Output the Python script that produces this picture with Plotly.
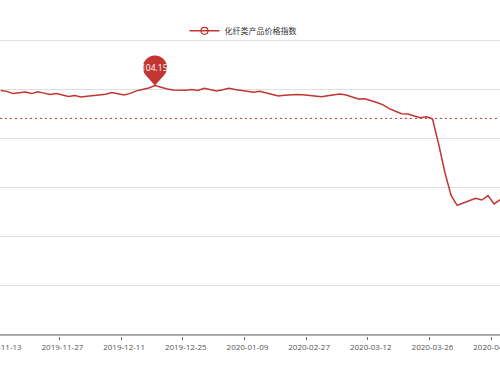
import numpy as np
import plotly.graph_objects as go

# ---------------- data ----------------
dates = [
    "2019-11-13", "2019-11-14", "2019-11-15", "2019-11-18", "2019-11-19", "2019-11-20",
    "2019-11-21", "2019-11-22", "2019-11-25", "2019-11-26", "2019-11-27", "2019-11-28",
    "2019-11-29", "2019-12-02", "2019-12-03", "2019-12-04", "2019-12-05", "2019-12-06",
    "2019-12-09", "2019-12-10", "2019-12-11", "2019-12-12", "2019-12-13", "2019-12-16",
    "2019-12-17", "2019-12-18", "2019-12-19", "2019-12-20", "2019-12-23", "2019-12-24",
    "2019-12-25", "2019-12-26", "2019-12-27", "2019-12-30", "2019-12-31", "2020-01-02",
    "2020-01-03", "2020-01-06", "2020-01-07", "2020-01-08", "2020-01-09", "2020-01-10",
    "2020-01-13", "2020-01-14", "2020-01-15", "2020-01-16", "2020-01-17", "2020-01-20",
    "2020-01-21", "2020-01-22", "2020-02-27", "2020-02-28", "2020-03-02", "2020-03-03",
    "2020-03-04", "2020-03-05", "2020-03-06", "2020-03-09", "2020-03-10", "2020-03-11",
    "2020-03-12", "2020-03-13", "2020-03-16", "2020-03-17", "2020-03-18", "2020-03-19",
    "2020-03-20", "2020-03-23", "2020-03-24", "2020-03-25", "2020-03-26", "2020-03-27",
    "2020-03-30", "2020-03-31", "2020-04-01", "2020-04-02", "2020-04-03", "2020-04-07",
    "2020-04-08", "2020-04-09", "2020-04-10", "2020-04-13", "2020-04-14",
]
index_values = [
    103.95, 103.91, 103.82, 103.84, 103.88, 103.82, 103.89, 103.84, 103.78, 103.82,
    103.76, 103.70, 103.74, 103.68, 103.71, 103.74, 103.78, 103.79, 103.86, 103.81,
    103.76, 103.83, 103.93, 103.99, 104.05, 104.15, 104.07, 104.01, 103.97, 103.95,
    103.96, 103.99, 103.95, 104.04, 104.00, 103.93, 103.98, 104.04, 103.99, 103.95,
    103.89, 103.88, 103.91, 103.84, 103.77, 103.72, 103.75, 103.78, 103.78, 103.77,
    103.75, 103.72, 103.69, 103.73, 103.78, 103.80, 103.76, 103.67, 103.60, 103.61,
    103.54, 103.46, 103.36, 103.21, 103.10, 103.00, 102.99, 102.91, 102.84, 102.88,
    102.79, 101.77, 100.63, 99.69, 99.27, 99.37, 99.47, 99.56, 99.49, 99.67,
    99.33, 99.51, 99.61,
]
average_value = 102.81          # dashed "average" mark line
series_name = "化纤类产品价格指数"
label_every = 10                # one axis label per 10 categories
y_min, y_max, y_step = 94, 106, 2

# ---------------- styling ----------------
RED = "#c23531"
AXIS = "#666666"
GRID = "#e0e0e0"
FONT = "Open Sans, Noto Sans CJK SC, sans-serif"

tick_idx = list(range(0, len(dates), label_every))
x_range = [-0.12, 80.95]
pad = 0.041
y_range = [y_min - pad, y_max + pad]

fig = go.Figure()

fig.add_trace(go.Scatter(
    x=dates, y=index_values, mode="lines",
    line=dict(color=RED, width=1.5), showlegend=False,
))
# legend entry (empty-circle line icon)
fig.add_trace(go.Scatter(
    x=[None], y=[None], mode="lines+markers", name=series_name,
    line=dict(color=RED, width=1.5),
    marker=dict(symbol="circle-open", size=7, color=RED, line=dict(width=1.2)),
))
# helper trace for the boundary tick axis
fig.add_trace(go.Scatter(x=[], y=[], xaxis="x2", showlegend=False, hoverinfo="skip"))

# average mark line
fig.add_shape(type="line", xref="paper", x0=0, x1=1, yref="y",
              y0=average_value, y1=average_value,
              line=dict(color=RED, width=1, dash="2px,3px"))

# max mark point (pin)
imax = int(np.argmax(index_values))
vmax = index_values[imax]
r, cy = 12.0, 18.0
beta = np.arccos(r / cy)
t = np.linspace(-np.pi / 2 + beta, 3 * np.pi / 2 - beta, 40)
pts = ["M 0 0"] + [f"L {r*np.cos(a):.2f} {cy + r*np.sin(a):.2f}" for a in t] + ["Z"]
fig.add_shape(type="path", xref="x", yref="y",
              xsizemode="pixel", ysizemode="pixel",
              xanchor=dates[imax], yanchor=vmax,
              path=" ".join(pts), fillcolor=RED, line=dict(width=0))
fig.add_annotation(x=dates[imax], y=vmax, text=f"{vmax:.2f}", showarrow=False,
                   yshift=cy, font=dict(color="white", size=8.5, family=FONT))

fig.update_layout(
    width=500, height=375,
    margin=dict(l=0, r=0, t=39, b=39, pad=0, autoexpand=False),
    paper_bgcolor="white", plot_bgcolor="white",
    font=dict(family=FONT, size=8, color="#555555"),
    legend=dict(orientation="h", x=0.486, xanchor="center", y=1.0274, yanchor="middle",
                font=dict(size=8, color="#333333", family="Noto Sans CJK SC, sans-serif"),
                bgcolor="rgba(0,0,0,0)", itemwidth=30),
    xaxis=dict(type="category", range=x_range, tickmode="array",
               tickvals=[dates[i] for i in tick_idx], ticktext=[dates[i] for i in tick_idx],
               ticks="", showgrid=False, showline=False, zeroline=False,
               tickfont=dict(size=8, color="#555555"), ticklabelstandoff=5,
               fixedrange=True, automargin=False),
    xaxis2=dict(overlaying="x", anchor="y", side="bottom", range=x_range,
                tickmode="array", tickvals=[i - 0.5 for i in tick_idx],
                ticks="outside", ticklen=3, tickcolor=AXIS, showticklabels=False,
                showgrid=False, showline=False, zeroline=False, automargin=False),
    yaxis=dict(range=y_range, tickmode="linear", dtick=y_step, tick0=y_min,
               showgrid=True, gridcolor=GRID, gridwidth=1, showticklabels=False,
               ticks="", zeroline=False, showline=False, automargin=False),
)
# x axis line at the bottom value of the y scale
fig.add_shape(type="line", xref="paper", x0=0, x1=1, yref="y", y0=y_min, y1=y_min,
              line=dict(color=AXIS, width=1))

fig.write_html("out.html", config={"displayModeBar": False},
               post_script="document.body.style.margin='0';document.body.style.overflow='hidden';")
